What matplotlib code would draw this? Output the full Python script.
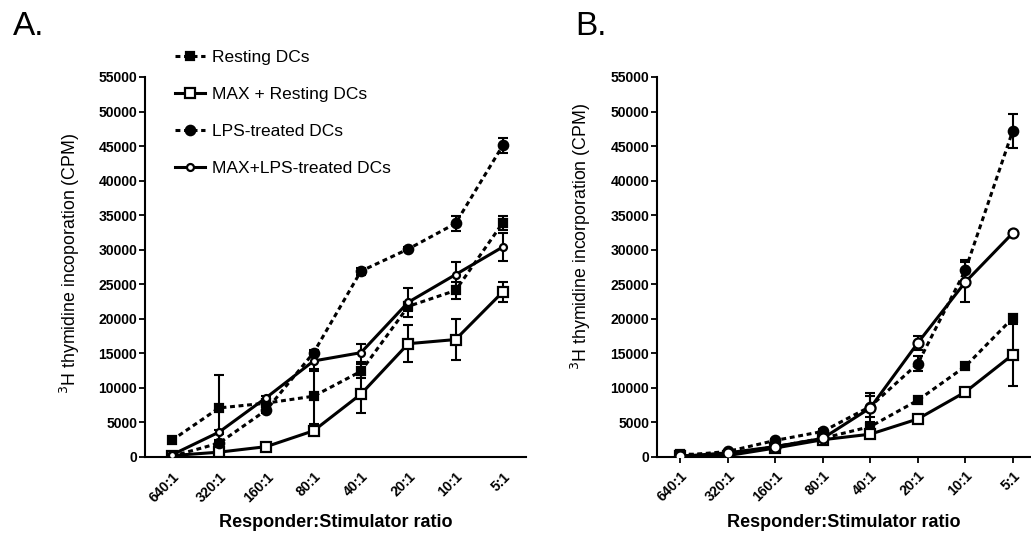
import matplotlib
matplotlib.use("Agg")
import matplotlib.pyplot as plt
from matplotlib import font_manager
import numpy as np

plt.rcParams['font.family'] = ['Liberation Sans', 'DejaVu Sans']

_names = {f.name for f in font_manager.fontManager.ttflist}
if 'Liberation Sans Narrow' in _names:
    TICKFAM, TICKSIZE = ['Liberation Sans Narrow', 'Liberation Sans'], 11.5
else:
    TICKFAM, TICKSIZE = ['Liberation Sans', 'DejaVu Sans'], 10.1

ratios = ["640:1", "320:1", "160:1", "80:1", "40:1", "20:1", "10:1", "5:1"]
series_names = ["Resting DCs", "MAX + Resting DCs", "LPS-treated DCs", "MAX+LPS-treated DCs"]

# Panel A values (CPM) and errors
a_resting = [2400, 7100, 7800, 8800, 12400, 21800, 24100, 33900]
a_resting_err = [200, 4800, 500, 4000, 1000, 700, 1200, 1000]
a_max_resting = [200, 700, 1500, 3800, 9100, 16400, 17000, 23900]
a_max_resting_err = [100, 200, 200, 300, 2800, 2700, 3000, 1500]
a_lps = [100, 2000, 6800, 15100, 26900, 30100, 33800, 45100]
a_lps_err = [100, 500, 400, 400, 500, 300, 1100, 1100]
a_max_lps = [300, 3600, 8600, 13900, 15100, 22400, 26400, 30400]
a_max_lps_err = [100, 300, 300, 1500, 1300, 2100, 1800, 2000]

# Panel B values (CPM) and errors
b_resting = [400, 400, 1500, 2700, 4400, 8200, 13100, 20100]
b_resting_err = [100, 100, 200, 200, 700, 300, 400, 400]
b_max_resting = [200, 200, 1300, 2500, 3300, 5500, 9400, 14800]
b_max_resting_err = [100, 100, 200, 200, 300, 300, 300, 4500]
b_lps = [200, 800, 2400, 3700, 7300, 13500, 27000, 47200]
b_lps_err = [100, 100, 200, 300, 1500, 1100, 1500, 2500]
b_max_lps = [100, 600, 1500, 2700, 7100, 16500, 25300, 32400]
b_max_lps_err = [100, 100, 200, 200, 2200, 1000, 2900, 300]

yticks = list(range(0, 55001, 5000))

W, H = 1031, 533
fig = plt.figure(figsize=(W / 100, H / 100), dpi=100)
axA = fig.add_axes([145 / W, 76 / H, 381 / W, 380 / H])
axB = fig.add_axes([657 / W, 76 / H, 374 / W, 380 / H])

LW = 2.2
styles = [
    dict(ls=(0, (1.6, 1.2)), marker='s', mfc='black', ms=6.3),
    dict(ls='-', marker='s', mfc='white', ms=7.2),
    dict(ls=(0, (1.6, 1.2)), marker='o', mfc='black', ms=6.8),
    dict(ls='-', marker='o', mfc='white', ms=5.5),
]


def draw(ax, data, errs, circ_ms, ylabel, xticklen, xpad):
    x = np.arange(len(ratios))
    handles = []
    for i, (vals, err) in enumerate(zip(data, errs)):
        st = dict(styles[i])
        if i == 3:
            st['ms'] = circ_ms
        ax.errorbar(x, vals, yerr=err, fmt='none', ecolor='black', elinewidth=1.5,
                    capsize=3.6, capthick=1.5, zorder=2)
        ln, = ax.plot(x, vals, color='black', lw=LW, linestyle=st['ls'], marker=st['marker'],
                      mfc=st['mfc'], mec='black', mew=1.6, ms=st['ms'], zorder=3,
                      label=series_names[i])
        handles.append(ln)
    ax.set_ylim(0, 55000)
    ax.set_yticks(yticks)
    ax.set_yticklabels([str(v) for v in yticks], fontsize=TICKSIZE, fontweight='bold',
                       family=TICKFAM)
    ax.set_xticks(x)
    ax.set_xticklabels(ratios, rotation=45, ha='right', va='top', rotation_mode='anchor',
                       fontsize=TICKSIZE, fontweight='bold', family=TICKFAM)
    for s in ['top', 'right']:
        ax.spines[s].set_visible(False)
    for s in ['left', 'bottom']:
        ax.spines[s].set_linewidth(1.5)
    ax.tick_params(axis='y', length=4.0, width=1.3, pad=1.5)
    ax.tick_params(axis='x', length=xticklen, width=1.3, pad=xpad)
    ax.set_xlabel("Responder:Stimulator ratio", fontsize=13, fontweight='bold', labelpad=7)
    ax.set_ylabel(ylabel, fontsize=12.8)
    return handles


hA = draw(axA, [a_resting, a_max_resting, a_lps, a_max_lps],
          [a_resting_err, a_max_resting_err, a_lps_err, a_max_lps_err],
          5.0, "$^{3}$H thymidine incoporation (CPM)", 0, 9)
axA.set_xlim(-0.565, 7.49)
axA.yaxis.set_label_coords(-0.165, 0.51)
hB = draw(axB, [b_resting, b_max_resting, b_lps, b_max_lps],
          [b_resting_err, b_max_resting_err, b_lps_err, b_max_lps_err],
          7.2, "$^{3}$H thymidine incorporation (CPM)", 4.5, 4)
axB.set_xlim(-0.49, 7.385)
axB.yaxis.set_label_coords(-0.17, 0.58)

fig.legend(handles=hA, loc='upper left', bbox_to_anchor=(175 / W, 1 - 50 / H),
           frameon=False, fontsize=12.5, handlelength=1.7, handletextpad=0.45,
           labelspacing=1.25, borderpad=0, borderaxespad=0)

fig.text(13 / W, 1 - 35 / H, "A.", fontsize=24, ha='left', va='baseline')
fig.text(575 / W, 1 - 35 / H, "B.", fontsize=24, ha='left', va='baseline')

fig.savefig("out.png", dpi=100)
